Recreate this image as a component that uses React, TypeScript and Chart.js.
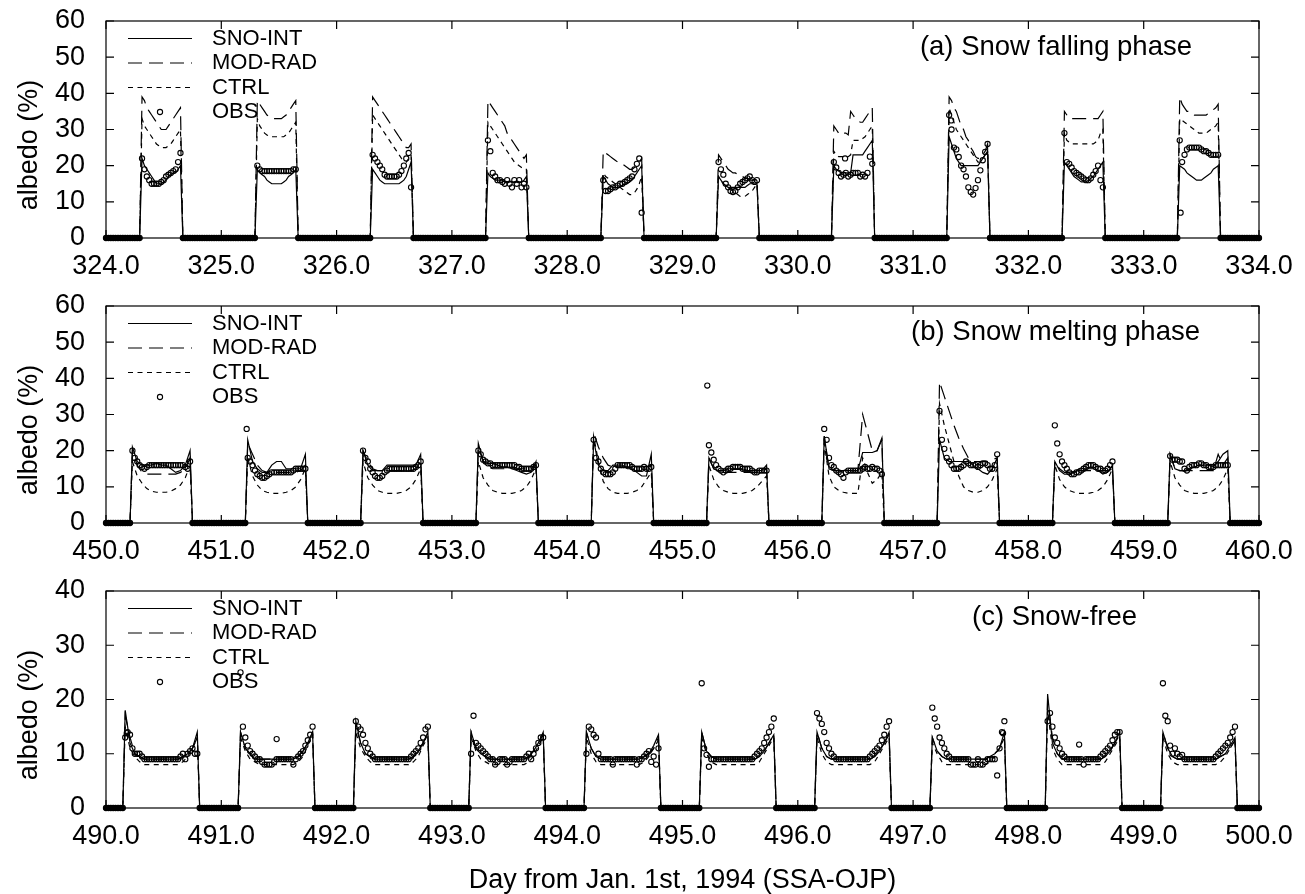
import React, { useEffect, useRef } from "react";
import { Chart, registerables } from "chart.js";
Chart.register(...registerables);

const FONT = '"Liberation Sans", Arial, Helvetica, sans-serif';
const seriesNames = ["SNO-INT", "MOD-RAD", "CTRL", "OBS"];
const yAxisTitle = "albedo (%)";
const xAxisTitle = "Day from Jan. 1st, 1994 (SSA-OJP)";

// ---------- Panel (a): days 324-334, half-hourly daytime samples k=15..31 ----------
const aStartDay = 324;
const aYMax = 60;
const aTitle = "(a) Snow falling phase";
const aSnoInt = [
  [22, 20, 19, 18, 17, 16, 15, 15, 15, 15.5, 16, 17, 17.5, 18, 18, 19, 20],
  [19, 18, 17.5, 17, 16, 15.5, 15, 15, 15, 15, 15, 15.5, 16, 17, 17.5, 18, 19],
  [19, 18, 17, 16, 15.5, 15, 15, 15, 15, 15, 15, 15, 15.5, 16, 17, 19, 21],
  [18, 17, 16.5, 16, 16, 16, 16, 15.5, 15.5, 15.5, 15.5, 15.5, 15.5, 15.5, 15.5, 16, 17],
  [17, 16, 15, 14.5, 14, 14, 14, 14, 14.5, 15, 15, 15.5, 16, 17, 18, 19, 20],
  [17, 16, 15, 14.5, 14, 14, 14, 14, 14, 14, 14, 14, 14.5, 15, 15, 15, 15],
  [20, 19, 18.5, 18, 18, 18, 18, 18, 23, 23, 23, 23, 23, 24, 25, 26, 27],
  [28, 26, 24, 22, 21, 20, 20, 20, 20, 20, 20, 20, 20, 21, 22, 23, 24],
  [21, 20, 19, 18, 17, 16.5, 16, 15.5, 15.5, 15.5, 16, 16.5, 17, 18, 19, 20, 21],
  [20, 19.5, 19, 18, 17.5, 17, 16.5, 16, 16, 16, 16.5, 17, 17.5, 18, 19, 19.5, 20],
];
const aModRad = [
  [39, 38, 36, 35, 34, 33, 32, 31, 30, 30, 30, 31, 32, 33, 34, 35, 36],
  [38, 37, 36, 35, 34, 33.5, 33, 33, 33, 33, 33, 33.5, 34, 35, 36, 37, 38],
  [39, 38, 37, 36, 35, 34, 33, 32, 31, 30, 29, 28, 27, 26, 25, 25, 26],
  [38, 37, 36, 35, 34, 33, 32, 31, 29, 28, 27, 26, 25, 24, 23, 22, 23],
  [24, 23.5, 23, 22.5, 22, 21.5, 21, 21, 20.5, 20, 19.5, 19, 19, 19.5, 20, 21, 22],
  [23, 22, 21, 20, 19, 18.5, 18, 18, 17.5, 17, 17, 16.5, 16.5, 16, 16, 16, 16],
  [31, 30, 29, 29.5, 29, 29, 28.5, 35, 34, 33, 32.5, 32, 32, 33, 34, 35, 36],
  [39, 38, 36, 35, 33, 31, 30, 28, 27, 25, 24, 22.5, 22, 22, 23, 24, 26],
  [35, 34, 33, 33, 33, 33, 33, 33, 33, 33, 33, 33, 33, 33, 33, 34, 35],
  [39, 37, 36, 35, 35, 34.5, 34, 34, 34, 34, 34, 34, 34.5, 35, 35.5, 36, 37],
];
const aCtrl = [
  [33, 31, 30, 29, 28, 27, 26, 25.5, 25, 25, 25, 25.5, 26, 27, 28, 29, 30],
  [33, 31, 30, 29, 28.5, 28, 28, 28, 28, 28, 28, 28, 28.5, 29, 30, 31, 32],
  [34, 33, 32, 31, 30, 29, 28, 27, 26, 25, 24, 23, 22, 21.5, 21, 22, 23],
  [32, 31, 30, 29, 28, 27, 26, 25, 24, 23, 22, 21, 20.5, 20, 19.5, 19, 19],
  [18, 17, 16.5, 16, 15.5, 15, 14.5, 14, 13.5, 13, 12.5, 12, 12, 12.5, 13.5, 15, 17],
  [17, 16, 15, 14.5, 14, 13.5, 13, 12.5, 12, 11.5, 11.5, 11.5, 12, 12.5, 13, 14, 15],
  [24, 23, 22.5, 22.5, 22.5, 22.5, 22.5, 23, 27, 27, 27, 27, 27.5, 28, 29, 30, 31],
  [36, 34, 32, 30, 29, 28, 27, 26, 25, 24, 23, 22, 21, 21, 22, 23, 25],
  [29, 27, 26.5, 26, 26, 26, 26, 26, 26, 26, 26, 26, 26, 26.5, 27, 29, 30],
  [33, 32.5, 32, 31.5, 31, 30.5, 30, 29.5, 29, 29, 29, 29, 29.5, 30, 30.5, 31, 32],
];
const aObs = [
  [22, 19, 17, 16, 15, 15, 15, 15, 15.5, 16, 17, 17.5, 18, 18.5, 19, 21, 23.5],
  [20, 19, 18.5, 18.5, 18.5, 18.5, 18.5, 18.5, 18.5, 18.5, 18.5, 18.5, 18.5, 18.5, 18.5, 19, 19],
  [23, 22, 21, 20, 19, 17.5, 17, 17, 17, 17, 17, 17.5, 18.5, 20, 22, 23.5, 14],
  [27, 24, 18, 17, 16, 16, 15.5, 15, 16, 15, 14, 16, 15, 16, 14, 15, 14],
  [16, 13, 13, 13.5, 14, 14, 14.5, 15, 15, 15.5, 16, 16.5, 17, 19, 20.5, 22, 7],
  [21, 19, 17.5, 15, 14, 13, 12.7, 13, 14, 15, 15.5, 16, 16.5, 17, 16, 15.5, 16],
  [21, 19.5, 18, 17, 17.5, 18, 17, 17.5, 18, 18, 18, 17, 17.5, 17, 18, 22.5, 20.5],
  [34, 30, 25, 24.5, 22.4, 20, 19, 17, 14, 12.7, 12, 13.8, 16, 18.7, 21.5, 23.8, 26],
  [29, 21, 20.5, 19.5, 18.5, 18, 17.5, 17, 16.5, 16, 16, 16.5, 17.5, 18.5, 20, 16, 14],
  [27, 21, 23, 24.5, 25, 25, 25, 25, 25, 24.5, 24, 24, 23.5, 23, 23, 23, 23],
];
const aObsExtra = [[330.41, 22], [331.33, 32.5], [333.32, 7]];

// ---------- Panel (b): days 450-460, OBS k=11..35, model lines every hour ----------
const bStartDay = 450;
const bYMax = 60;
const bTitle = "(b) Snow melting phase";
const bSnoInt = [
  [21, 17, 16, 16, 16, 16.5, 16, 16, 15, 14, 14.5, 16, 20],
  [23, 17, 15, 14, 14, 16, 17, 17, 15, 15, 15, 15, 19],
  [20, 16, 14.5, 14.5, 14.5, 16, 16, 16, 16, 16, 16, 16, 19],
  [22, 17, 16.5, 16.5, 16, 15.5, 15.5, 15, 14.5, 14, 13.5, 14, 17],
  [23, 16, 14.5, 14.5, 16, 16, 16, 15, 15, 14, 13, 13, 19],
  [18, 15, 14.5, 14.5, 15, 15, 15, 15, 14.5, 14.5, 14.5, 14.5, 16],
  [24, 15, 14.5, 14.5, 14.5, 14.5, 14.5, 14.5, 19.5, 19.5, 19.5, 20, 23.5],
  [23, 18, 17, 17, 17, 17, 17, 16, 15, 14, 13.5, 15, 18],
  [17, 14.5, 13.5, 13.5, 14, 15, 15, 15, 15, 14.5, 13.5, 14, 16],
  [19, 15, 14.5, 14.5, 15, 15.5, 16, 16, 16, 15.5, 17, 19, 20],
];
const bModRad = [
  [20, 16, 14, 13.5, 13.5, 13.5, 13.5, 13.5, 13.5, 13.5, 14, 15, 18],
  [22, 19, 16, 14.5, 14, 14, 14, 14, 14, 14, 14, 14.5, 16],
  [20, 17, 15, 14.5, 14.5, 14.5, 14.5, 14.5, 14.5, 14.5, 14.5, 15, 17],
  [21, 17, 15.5, 15, 15, 15, 15, 15, 15, 15, 15, 15, 16],
  [25, 21, 18, 16, 15.5, 15.5, 15.5, 15.5, 15.5, 15.5, 15.5, 15.5, 16],
  [18, 15, 14.5, 14, 14, 14, 14, 14, 14, 14, 14, 14, 15],
  [24, 15, 14.5, 14.5, 14.5, 14.5, 14.5, 14.5, 30, 25, 20, 20, 23],
  [39, 35, 31, 27, 23.5, 20.5, 18, 17, 17, 17, 17, 17.5, 18],
  [17, 15, 14, 14, 14, 14.5, 14.5, 14.5, 14.5, 14.5, 14.5, 14.5, 15],
  [19, 15, 14.5, 14.5, 14.5, 14.5, 14.5, 14.5, 14.5, 14.5, 19, 16, 18],
];
const bCtrl = [
  [17, 13, 11, 9.5, 8.8, 8.5, 8.5, 8.5, 8.8, 9.5, 10.5, 12.5, 16],
  [18, 13, 10.5, 9, 8.5, 8.2, 8.2, 8.2, 8.5, 9, 10, 12, 15],
  [17, 12.5, 10.5, 9, 8.5, 8.2, 8.2, 8.2, 8.5, 9, 10, 12, 15],
  [17, 12.5, 10.5, 9, 8.5, 8.2, 8.2, 8.2, 8.5, 9, 10, 12, 15],
  [24, 17, 11.5, 9.5, 8.5, 8.2, 8.2, 8.2, 8.5, 9, 10, 12, 14],
  [16, 12, 10, 9, 8.5, 8.2, 8.2, 8.2, 8.5, 9, 10, 11.5, 13],
  [22, 13, 10, 9, 8.5, 8.2, 8.2, 8.2, 18, 14, 11, 12, 14],
  [33, 27, 22, 17, 13, 10, 9, 8.5, 8.5, 9, 10, 12, 15],
  [16, 12, 10, 9, 8.5, 8.2, 8.2, 8.2, 8.5, 9, 10, 12, 15],
  [17, 12.5, 10.5, 9, 8.5, 8.2, 8.2, 8.2, 8.5, 9, 10, 12, 15],
];
const bObs = [
  [20, 18, 17, 16, 15.5, 15, 15.5, 16, 16, 16, 16, 16, 16, 16, 16, 16, 16, 16, 16, 16, 16, 16, 15.5, 15, 17],
  [18, 17, 16, 14.5, 13.5, 13, 12.5, 12.5, 13, 13.5, 14, 14, 14, 14, 14, 14, 14, 14, 14, 14.5, 15, 15, 15, 15, 15],
  [20, 18, 17, 15, 14, 13, 12.5, 12.5, 13, 14, 14.5, 15, 15, 15, 15, 15, 15, 15, 15, 15, 15, 15, 15.5, 16, 17],
  [20, 19, 17.5, 17, 16.5, 16.5, 16, 16, 16, 16, 16, 16, 16, 16, 16, 16, 15.5, 15.5, 15, 15, 15, 15, 15, 15.5, 16],
  [23, 18, 17, 15, 14, 13.5, 13.5, 13.5, 14, 15, 16, 16, 16, 16, 16, 16, 15.5, 15, 15, 15, 15, 15.5, 15, 15, 15.5],
  [21.5, 19.5, 17.5, 16, 15, 14.5, 14, 14.5, 15, 15, 15.5, 15.5, 15.5, 15.5, 15, 15, 15, 15, 14.5, 14, 14, 14.5, 14.5, 14.5, 14.5],
  [26, 23, 18, 16, 15.5, 14.5, 14, 13.5, 12.5, 14, 14.5, 14.5, 14.5, 14.5, 14.5, 14.5, 15, 15.5, 15, 15, 15.5, 15, 15, 14.5, 13.5],
  [31, 23, 20.5, 18, 17, 16, 15, 15, 15, 15.5, 16, 17, 16.5, 16, 16, 16, 15.5, 16, 16.5, 16.5, 16, 15, 15, 16, 19],
  [27, 22, 19, 17, 16, 15, 14, 13.5, 13.5, 14, 14, 14.5, 15, 15.5, 16, 16, 16, 15.5, 15, 15, 14.5, 14.5, 15, 16, 17],
  [18.5, 17.5, 17.5, 17.5, 17, 17, 15, 14.5, 15.5, 16, 16, 16, 16.5, 16.5, 16, 16, 15.5, 15.5, 15.5, 16, 16, 16, 16, 16, 16],
];
const bObsExtra = [[451.22, 26], [455.215, 38]];

// ---------- Panel (c): days 490-500, OBS k=8..38, model lines every hour ----------
const cStartDay = 490;
const cYMax = 40;
const cTitle = "(c) Snow-free";
const cSnoInt = [
  [18, 12, 10, 9.5, 9, 9, 9, 9, 9, 9, 9, 9, 9.5, 10, 11, 14],
  [14, 11, 10, 9, 9, 9, 9, 9, 9, 9, 9, 9, 9.5, 10.5, 12, 14],
  [16, 12, 10, 9.5, 9, 9, 9, 9, 9, 9, 9, 9, 9.5, 10.5, 12, 14],
  [14, 11, 10, 9.5, 9, 9, 9, 9, 9, 9, 9, 9, 9.5, 10.5, 12, 14],
  [14, 11, 9.5, 9, 9, 9, 9, 9, 9, 9, 9, 9, 9.5, 10, 11.5, 13.5],
  [14, 10.5, 9.5, 9, 9, 9, 9, 9, 9, 9, 9, 9, 9.5, 10.5, 12, 13.5],
  [14, 11, 9.5, 9, 9, 9, 9, 9, 9, 9, 9, 9, 9.5, 10.5, 12, 14],
  [13, 10.5, 9.5, 9, 9, 9, 9, 9, 9, 9, 9, 9, 9.5, 10, 11, 14],
  [21, 12, 10, 9, 9, 9, 9, 9, 9, 9, 9, 9, 9.5, 10.5, 12, 14],
  [14, 11, 9.5, 9, 9, 9, 9, 9, 9, 9, 9, 9, 9.5, 10, 11.5, 13],
];
const cModRad = [
  [17, 13, 10, 9.5, 9, 9, 9, 9, 9, 9, 9, 9, 9.5, 10, 11, 13],
  [14, 11, 10, 9, 9, 9, 9, 9, 9, 9, 9, 9, 9.5, 10.5, 12, 14],
  [15, 12, 10, 9.5, 9, 9, 9, 9, 9, 9, 9, 9, 9.5, 10.5, 12, 13.5],
  [14, 11, 10, 9.5, 9, 9, 9, 9, 9, 9, 9, 9, 9.5, 10.5, 12, 13.5],
  [14, 11, 9.5, 9, 9, 9, 9, 9, 9, 9, 9, 9, 9.5, 10, 11, 13],
  [14, 10.5, 9.5, 9, 9, 9, 9, 9, 9, 9, 9, 9, 9.5, 10.5, 12, 13.5],
  [14, 11, 9.5, 9, 9, 9, 9, 9, 9, 9, 9, 9, 9.5, 10.5, 12, 13.5],
  [13, 10.5, 9.5, 9, 9, 9, 9, 9, 9, 9, 9, 9, 9.5, 10, 11, 13.5],
  [20, 13, 10, 9, 9, 9, 9, 9, 9, 9, 9, 9, 9.5, 10.5, 12, 13.5],
  [14, 11, 9.5, 9, 9, 9, 9, 9, 9, 9, 9, 9, 9.5, 10, 11, 12.5],
];
const cCtrl = [
  [15, 11, 9.5, 8.5, 8, 8, 8, 8, 8, 8, 8, 8, 8.5, 9.5, 11, 13],
  [13, 10.5, 9, 8.5, 8, 8, 8, 8, 8, 8, 8, 8, 8.5, 9.5, 11.5, 13.5],
  [14, 11, 9.5, 8.5, 8, 8, 8, 8, 8, 8, 8, 8, 8.5, 9.5, 11.5, 13],
  [13, 10.5, 9, 8.5, 8, 8, 8, 8, 8, 8, 8, 8, 8.5, 9.5, 11.5, 13],
  [13, 10, 8.5, 8, 8, 8, 8, 8, 8, 8, 8, 8, 8.5, 9.5, 11, 12.5],
  [13, 10, 8.5, 8, 8, 8, 8, 8, 8, 8, 8, 8, 8.5, 10, 11.5, 13],
  [13, 10, 8.5, 8, 8, 8, 8, 8, 8, 8, 8, 8, 8.5, 10, 11.5, 13],
  [12, 10, 8.5, 8, 8, 8, 8, 8, 8, 8, 8, 8, 8.5, 9.5, 11, 13],
  [18, 11, 9, 8, 8, 8, 8, 8, 8, 8, 8, 8, 8.5, 10, 11.5, 13],
  [13, 10, 8.5, 8, 8, 8, 8, 8, 8, 8, 8, 8, 8.5, 9.5, 11, 12.5],
];
const cObs = [
  [13, 14, 13.5, 11, 10, 10, 10, 9.5, 9, 9, 9, 9, 9, 9, 9, 9, 9, 9, 9, 9, 9, 9, 9, 9.5, 10, 9, 10, 10.5, 11, 10, 10],
  [25, 15, 13, 11.5, 10.5, 10, 9.5, 9, 9, 8.5, 8, 8, 8, 8, 8.5, 9, 9, 9, 9, 9, 9, 9, 8, 9, 9.5, 10, 10.5, 11.5, 12.5, 13.5, 15],
  [16, 15, 14.5, 13.5, 12, 11, 10, 9.5, 9, 9, 9, 9, 9, 9, 9, 9, 9, 9, 9, 9, 9, 9, 9, 9.5, 10, 10.5, 11, 12, 13, 14.5, 15],
  [10, 17, 12, 11.5, 11, 10.5, 10, 9.5, 9, 9, 8, 8.5, 9, 9, 9, 8, 8.5, 9, 9, 9, 9, 9, 9, 9.5, 10, 9, 10, 11, 12, 13, 13],
  [10, 15, 14.5, 13.5, 13, 10, 9, 9, 9, 9, 9, 8, 9, 9, 9, 9, 9, 9, 9, 9, 9, 8, 9, 9, 9.5, 10, 10.5, 8.5, 9.5, 8, 11],
  [23, 11, 9.8, 7.6, 9, 9, 9, 9, 9, 9, 9, 9, 9, 9, 9, 9, 9, 9, 9, 9, 9, 9, 9.5, 10, 10.5, 11, 12, 13, 14, 15, 16.5],
  [17.5, 16.5, 15.5, 14, 12, 11, 10, 9.5, 9, 9, 9, 9, 9, 9, 9, 9, 9, 9, 9, 9, 9, 9, 9.5, 10, 10.5, 11, 11.5, 12.5, 13.5, 15, 16],
  [18.5, 16.5, 15, 13, 12, 11, 10, 9.5, 9, 9, 9, 9, 9, 9, 9, 9, 8, 8, 8, 9, 8, 8, 8.5, 9, 9, 9, 9, 6, 11, 14, 16],
  [16, 17.5, 15, 13, 12, 11, 10, 9.5, 9, 9, 9, 9, 9, 9, 9, 8, 9, 9, 9, 9, 9, 9, 9.5, 10, 10.5, 11, 11.5, 12.5, 13.5, 14, 14],
  [23, 17, 16, 11.5, 10, 11, 10, 9.5, 9.8, 9, 9, 9, 9, 9, 9, 9, 9, 9, 9, 9, 9, 9, 9.5, 10, 10.5, 11, 11.5, 12, 13, 14, 15],
];
const cObsExtra = [[490.18, 13.8], [491.48, 12.7], [497.78, 13.8], [498.44, 11.7]];

// ---------- helpers ----------
const SLOTS = 48; // half-hour slots per day
type Pt = { x: number; y: number };

function lineSeries(d0: number, kFirst: number, kStep: number, days: number[][]): Pt[] {
  const pts: Pt[] = [{ x: d0, y: 0 }];
  days.forEach((vals, i) => {
    const day = d0 + i;
    const kLast = kFirst + (vals.length - 1) * kStep;
    pts.push({ x: day + (kFirst - 1) / SLOTS, y: 0 });
    vals.forEach((v, j) => pts.push({ x: day + (kFirst + j * kStep) / SLOTS, y: v }));
    pts.push({ x: day + (kLast + 1) / SLOTS, y: 0 });
  });
  pts.push({ x: d0 + days.length, y: 0 });
  return pts;
}

function obsSeries(d0: number, kFirst: number, days: number[][], extra: number[][]): Pt[] {
  const pts: Pt[] = [];
  days.forEach((vals, i) => {
    for (let k = 0; k < SLOTS; k++) {
      const j = k - kFirst;
      pts.push({ x: d0 + i + k / SLOTS, y: j >= 0 && j < vals.length ? vals[j] : 0 });
    }
  });
  pts.push({ x: d0 + days.length, y: 0 });
  extra.forEach(([x, y]) => pts.push({ x, y }));
  return pts;
}

type PanelCfg = {
  key: string;
  top: number;
  height: number;
  d0: number;
  yMax: number;
  title: string;
  titleX: number;
  titleAlign: CanvasTextAlign;
  kFirst: number;
  lineStep: number;
  sno: number[][];
  mod: number[][];
  ctrl: number[][];
  obs: number[][];
  obsExtra: number[][];
  showXTitle: boolean;
};

const PLOT_TOP = 21;
const PLOT_BOTTOM = 238;
const PLOT_LEFT = 106;
const PLOT_RIGHT = 1259;
const TICK_FONT = 27;

const panels: PanelCfg[] = [
  { key: "a", top: 0, height: 285, d0: aStartDay, yMax: aYMax, title: aTitle, titleX: 1192, titleAlign: "right",
    kFirst: 15, lineStep: 1, sno: aSnoInt, mod: aModRad, ctrl: aCtrl, obs: aObs, obsExtra: aObsExtra, showXTitle: false },
  { key: "b", top: 285, height: 285, d0: bStartDay, yMax: bYMax, title: bTitle, titleX: 1200, titleAlign: "right",
    kFirst: 11, lineStep: 2, sno: bSnoInt, mod: bModRad, ctrl: bCtrl, obs: bObs, obsExtra: bObsExtra, showXTitle: false },
  { key: "c", top: 570, height: 324, d0: cStartDay, yMax: cYMax, title: cTitle, titleX: 972, titleAlign: "left",
    kFirst: 8, lineStep: 2, sno: cSnoInt, mod: cModRad, ctrl: cCtrl, obs: cObs, obsExtra: cObsExtra, showXTitle: true },
];

const DASH_MOD = [14, 7];
const DASH_CTRL = [5, 4.5];
const OBS_R = 2.6;

function makeDecor(p: PanelCfg) {
  return {
    id: "decor_" + p.key,
    afterDraw(chart: any) {
      const ctx: CanvasRenderingContext2D = chart.ctx;
      const { left, right, top, bottom } = chart.chartArea;
      const xs = chart.scales.x;
      const ys = chart.scales.y;
      ctx.save();
      ctx.strokeStyle = "#000";
      ctx.lineWidth = 1.2;
      ctx.setLineDash([]);
      ctx.strokeRect(left, top, right - left, bottom - top);
      ctx.beginPath();
      ys.ticks.forEach((t: any) => {
        const y = ys.getPixelForValue(t.value);
        ctx.moveTo(left, y); ctx.lineTo(left + 8, y);
        ctx.moveTo(right, y); ctx.lineTo(right - 8, y);
      });
      xs.ticks.forEach((t: any) => {
        const x = xs.getPixelForValue(t.value);
        ctx.moveTo(x, bottom); ctx.lineTo(x, bottom - 8);
        ctx.moveTo(x, top); ctx.lineTo(x, top + 8);
      });
      ctx.stroke();

      // legend
      ctx.fillStyle = "#000";
      ctx.font = `22px ${FONT}`;
      ctx.textAlign = "left";
      ctx.textBaseline = "middle";
      const dashes = [[], DASH_MOD, DASH_CTRL];
      seriesNames.forEach((name, i) => {
        const y = top + 17.5 + 24.5 * i;
        if (i < 3) {
          ctx.beginPath();
          ctx.lineWidth = 1.2;
          ctx.setLineDash(dashes[i] as number[]);
          ctx.moveTo(128, y);
          ctx.lineTo(192, y);
          ctx.stroke();
          ctx.setLineDash([]);
        } else {
          ctx.beginPath();
          ctx.lineWidth = 1.1;
          ctx.arc(160, y, OBS_R, 0, Math.PI * 2);
          ctx.stroke();
        }
        ctx.fillText(name, 212, y);
      });

      // panel title
      ctx.font = `27.5px ${FONT}`;
      ctx.textAlign = p.titleAlign;
      ctx.textBaseline = "alphabetic";
      ctx.fillText(p.title, p.titleX, top + 34.3);

      // y-axis title
      ctx.save();
      ctx.translate(37, top + 124);
      ctx.rotate(-Math.PI / 2);
      ctx.font = `27px ${FONT}`;
      ctx.textAlign = "center";
      ctx.textBaseline = "alphabetic";
      ctx.fillText(yAxisTitle, 0, 0);
      ctx.restore();

      if (p.showXTitle) {
        ctx.font = `27px ${FONT}`;
        ctx.textAlign = "center";
        ctx.textBaseline = "alphabetic";
        ctx.fillText(xAxisTitle, (left + right) / 2, bottom + 80);
      }
      ctx.restore();
    },
  };
}

function PanelChart({ p }: { p: PanelCfg }) {
  const ref = useRef<HTMLCanvasElement>(null);
  useEffect(() => {
    const lineBase = {
      type: "line" as const,
      borderColor: "#000",
      borderWidth: 1.2,
      pointRadius: 0,
      tension: 0,
      fill: false,
      clip: false as const,
    };
    const chart = new Chart(ref.current as HTMLCanvasElement, {
      type: "line",
      data: {
        datasets: [
          { ...lineBase, label: seriesNames[0], data: lineSeries(p.d0, p.kFirst, p.lineStep, p.sno) },
          { ...lineBase, label: seriesNames[1], borderDash: DASH_MOD, data: lineSeries(p.d0, p.kFirst, p.lineStep, p.mod) },
          { ...lineBase, label: seriesNames[2], borderDash: DASH_CTRL, data: lineSeries(p.d0, p.kFirst, p.lineStep, p.ctrl) },
          {
            type: "line",
            label: seriesNames[3],
            data: obsSeries(p.d0, p.kFirst, p.obs, p.obsExtra),
            showLine: false,
            pointRadius: OBS_R,
            pointBorderWidth: 1.1,
            pointBorderColor: "#000",
            pointBackgroundColor: (c: any) => (c.raw && c.raw.y === 0 ? "#000" : "rgba(255,255,255,0)"),
            clip: false,
          } as any,
        ],
      },
      options: {
        responsive: false,
        animation: false,
        devicePixelRatio: 1,
        events: [],
        layout: { autoPadding: false, padding: { top: PLOT_TOP, right: 1305 - PLOT_RIGHT, left: 0, bottom: 0 } },
        plugins: { legend: { display: false }, tooltip: { enabled: false }, title: { display: false } },
        scales: {
          x: {
            type: "linear",
            min: p.d0,
            max: p.d0 + 10,
            grid: { display: false, drawTicks: false },
            border: { display: false },
            ticks: {
              stepSize: 1,
              autoSkip: false,
              maxRotation: 0,
              padding: 12,
              color: "#000",
              font: { family: FONT, size: TICK_FONT },
              callback: (v: any) => Number(v).toFixed(1),
            },
            afterFit: (s: any) => {
              s.height = p.height - PLOT_BOTTOM;
              s.paddingLeft = 0;
              s.paddingRight = 0;
            },
          },
          y: {
            type: "linear",
            min: 0,
            max: p.yMax,
            grid: { display: false, drawTicks: false },
            border: { display: false },
            ticks: {
              stepSize: 10,
              autoSkip: false,
              padding: 21,
              color: "#000",
              font: { family: FONT, size: TICK_FONT },
            },
            afterFit: (s: any) => {
              s.width = PLOT_LEFT;
              s.paddingTop = 0;
              s.paddingBottom = 0;
            },
          },
        },
      },
      plugins: [makeDecor(p)],
    } as any);
    return () => chart.destroy();
  }, []);
  return (
    <canvas
      ref={ref}
      width={1305}
      height={p.height}
      style={{ position: "absolute", left: 0, top: p.top, width: 1305, height: p.height, display: "block" }}
    />
  );
}

export default function App() {
  return (
    <div style={{ position: "absolute", left: 0, top: 0, width: 1305, height: 894, background: "#fff", overflow: "hidden" }}>
      {panels.map((p) => (
        <PanelChart key={p.key} p={p} />
      ))}
    </div>
  );
}
